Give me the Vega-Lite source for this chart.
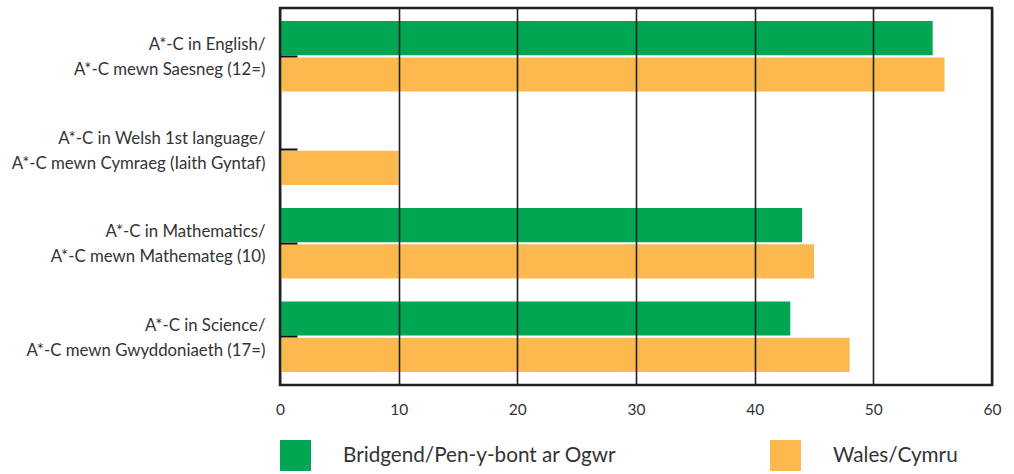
{
  "$schema": "https://vega.github.io/schema/vega-lite/v6.json",
  "width": 712,
  "height": 377,
  "autosize": {"type": "none"},
  "padding": {"left": 280, "top": 8, "right": 22, "bottom": 89},
  "config": {"view": {"stroke": "#222", "strokeWidth": 2.5}, "font": "Lato"},
  "data": {
    "values": [
      {"subject": "A*-C in English/|A*-C mewn Saesneg (12=)", "area": "Bridgend/Pen-y-bont ar Ogwr", "value": 55},
      {"subject": "A*-C in English/|A*-C mewn Saesneg (12=)", "area": "Wales/Cymru", "value": 56},
      {"subject": "A*-C in Welsh 1st language/|A*-C mewn Cymraeg (Iaith Gyntaf)", "area": "Wales/Cymru", "value": 10},
      {"subject": "A*-C in Mathematics/|A*-C mewn Mathemateg (10)", "area": "Bridgend/Pen-y-bont ar Ogwr", "value": 44},
      {"subject": "A*-C in Mathematics/|A*-C mewn Mathemateg (10)", "area": "Wales/Cymru", "value": 45},
      {"subject": "A*-C in Science/|A*-C mewn Gwyddoniaeth (17=)", "area": "Bridgend/Pen-y-bont ar Ogwr", "value": 43},
      {"subject": "A*-C in Science/|A*-C mewn Gwyddoniaeth (17=)", "area": "Wales/Cymru", "value": 48}
    ]
  },
  "mark": {"type": "bar"},
  "encoding": {
    "y": {
      "field": "subject", "type": "nominal", "sort": null,
      "scale": {"paddingInner": 0.245, "paddingOuter": 0.14},
      "axis": {
        "title": null, "labelExpr": "split(datum.value, '|')",
        "labelFontSize": 16.8, "labelLineHeight": 25, "labelColor": "#333",
        "labelOffset": -11,
        "domain": false, "tickSize": -17, "tickColor": "#111", "tickWidth": 2,
        "labelPadding": 32, "zindex": 1, "labelLimit": 300
      }
    },
    "yOffset": {"field": "area", "sort": null, "scale": {"paddingInner": 0.06}},
    "x": {
      "field": "value", "type": "quantitative",
      "scale": {"domain": [0, 60]},
      "axis": {
        "title": null, "values": [0, 10, 20, 30, 40, 50, 60],
        "grid": true, "gridColor": "#222", "gridWidth": 1.6,
        "ticks": false, "domain": false, "labelFontSize": 15.5, "labelColor": "#333",
        "labelPadding": 17, "labelFlush": false, "zindex": 1
      }
    },
    "color": {
      "field": "area", "type": "nominal", "sort": null,
      "scale": {"domain": ["Bridgend/Pen-y-bont ar Ogwr", "Wales/Cymru"], "range": ["#00A651", "#FDB94D"]},
      "legend": {
        "title": null, "orient": "none", "direction": "horizontal",
        "legendX": 0, "legendY": 432,
        "symbolType": "square", "symbolSize": 960, "symbolStrokeWidth": 0, "symbolOpacity": 1,
        "labelFontSize": 20.7, "labelColor": "#333", "labelOffset": 32,
        "columnPadding": 154, "labelLimit": 400
      }
    }
  }
}
